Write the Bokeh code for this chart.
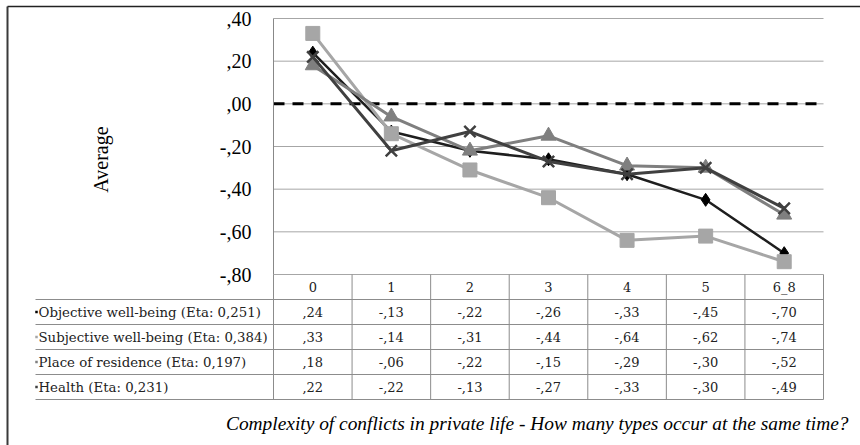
import math
from bokeh.plotting import figure
from bokeh.models import Range1d, LinearAxis, FixedTicker
from bokeh.core.properties import value
from bokeh.embed import file_html
from bokeh.resources import INLINE

# ---------------- data ----------------
categories = ["0", "1", "2", "3", "4", "5", "6_8"]
series_names = [
    "Objective well-being (Eta: 0,251)",
    "Subjective well-being (Eta: 0,384)",
    "Place of residence (Eta: 0,197)",
    "Health (Eta: 0,231)",
]
objective = [0.24, -0.13, -0.22, -0.26, -0.33, -0.45, -0.70]
subjective = [0.33, -0.14, -0.31, -0.44, -0.64, -0.62, -0.74]
place = [0.18, -0.06, -0.22, -0.15, -0.29, -0.30, -0.52]
health = [0.22, -0.22, -0.13, -0.27, -0.33, -0.30, -0.49]
y_ticks = [0.4, 0.2, 0.0, -0.2, -0.4, -0.6, -0.8]
y_tick_labels = [",40", ",20", ",00", "-,20", "-,40", "-,60", "-,80"]
y_label = "Average"
x_title = "Complexity of conflicts in private life - How many types occur at the same time?"

all_series = [objective, subjective, place, health]

# ---------------- layout (pixels) ----------------
W, H = 860, 445
PL, PR, PT, PB = 273, 823, 18, 274
n = len(categories)
col_w = (PR - PL) / n
y_top, y_bot = y_ticks[0], y_ticks[-1]
sy = (PB - PT) / (y_top - y_bot)
ROW_H = 25


def X(px):
    return -0.5 + (px - PL) / col_w


def Y(py):
    return y_top - (py - PT) / sy


def fmt(v):
    s = f"{abs(v):.2f}"
    s = s[s.index("."):].replace(".", ",")
    return ("-" if v < 0 else "") + s


SERIF = value("Liberation Serif")
TFONT = value("DejaVu Serif")

p = figure(width=W, height=H, title=None,
           x_range=Range1d(X(0), X(W)), y_range=Range1d(Y(H), Y(0)),
           min_border=0, x_axis_type=None, y_axis_type=None,
           toolbar_location=None, output_backend="svg",
           outline_line_color=None, background_fill_color="white",
           border_fill_color="white")

# y axis placed at the left edge of the plot area
yaxis = LinearAxis(fixed_location=-0.5, ticker=FixedTicker(ticks=y_ticks),
                   major_label_overrides={t: l for t, l in zip(y_ticks, y_tick_labels)},
                   bounds=(y_bot, y_top),
                   axis_line_color="#888888", axis_line_width=1,
                   major_tick_line_color=None, minor_tick_line_color=None,
                   major_label_standoff=16,
                   major_label_text_font="Liberation Serif",
                   major_label_text_font_size="20px",
                   major_label_text_color="black")
p.add_layout(yaxis, "left")

# gridlines
p.segment(x0=[-0.5] * len(y_ticks), x1=[n - 0.5] * len(y_ticks),
          y0=y_ticks, y1=y_ticks, line_color="#a6a6a6", line_width=1)

# table lines
nrows = len(all_series) + 1
row_bounds = [Y(PB + ROW_H * k) for k in range(1, nrows + 1)]
p.segment(x0=[X(35)] * len(row_bounds), x1=[n - 0.5] * len(row_bounds),
          y0=row_bounds, y1=row_bounds, line_color="#8c8c8c", line_width=1)
col_bounds = [i - 0.5 for i in range(n + 1)]
p.segment(x0=col_bounds, x1=col_bounds, y0=[Y(PB)] * len(col_bounds),
          y1=[Y(PB + ROW_H * nrows)] * len(col_bounds),
          line_color="#8c8c8c", line_width=1)

# zero line
p.segment(x0=[-0.5], x1=[n - 0.5], y0=[0], y1=[0], line_color="black",
          line_width=3, line_dash="11 8")

# outer border
p.segment(x0=[X(7)], x1=[X(7)], y0=[Y(6)], y1=[Y(H + 5)], line_color="#3a3a3a", line_width=2)
p.segment(x0=[X(7)], x1=[X(W + 5)], y0=[Y(6)], y1=[Y(6)], line_color="#222222", line_width=1.5)

# series
xs = list(range(n))
styles = [
    ("#1e1e1e", "diamond", "black", 13, 2.5),
    ("#a6a6a6", "square", "#a6a6a6", 14, 3),
    ("#7f7f7f", "triangle", "#7f7f7f", 15, 3),
    ("#404040", "x", "#404040", 16, 3),
]
for vals, (lc, mk, mc, ms, lw) in zip(all_series, styles):
    p.line(xs, vals, line_color=lc, line_width=lw)
    if mk == "x":
        p.scatter(xs, vals, marker=mk, size=ms, line_color=mc, line_width=2.5)
    else:
        p.scatter(xs, vals, marker=mk, size=ms, fill_color=mc, line_color=mc)

# axis label
p.text(x=[X(100)], y=[Y(159)], text=[y_label], angle=math.pi / 2,
       text_align="center", text_baseline="middle", text_font=SERIF,
       text_font_size="20px", text_color="black")

# table header
p.text(x=xs, y=[Y(PB + ROW_H / 2)] * n, text=categories, text_align="center",
       text_baseline="middle", text_font=TFONT, text_font_size="13px", text_color="#222222")

# table rows
for r, (name, vals, st) in enumerate(zip(series_names, all_series, styles)):
    yc = Y(PB + ROW_H * (r + 1) + ROW_H / 2)
    p.text(x=xs, y=[yc] * n, text=[fmt(v) for v in vals], text_align="center",
           text_baseline="middle", text_font=TFONT, text_font_size="13px",
           text_color="#222222")
    p.text(x=[X(38)], y=[yc], text=[name], text_align="left",
           text_baseline="middle", text_font=TFONT, text_font_size="13.3px",
           text_color="#222222")
    p.scatter([X(36)], [yc], marker="square", size=2.5, fill_color=st[2], line_color=None)

# x title
p.text(x=[X(848)], y=[Y(423)], text=[x_title], text_align="right",
       text_baseline="middle", text_font=SERIF, text_font_style="italic",
       text_font_size="19.4px", text_color="black")

open("out.html", "w").write(file_html(p, INLINE))
